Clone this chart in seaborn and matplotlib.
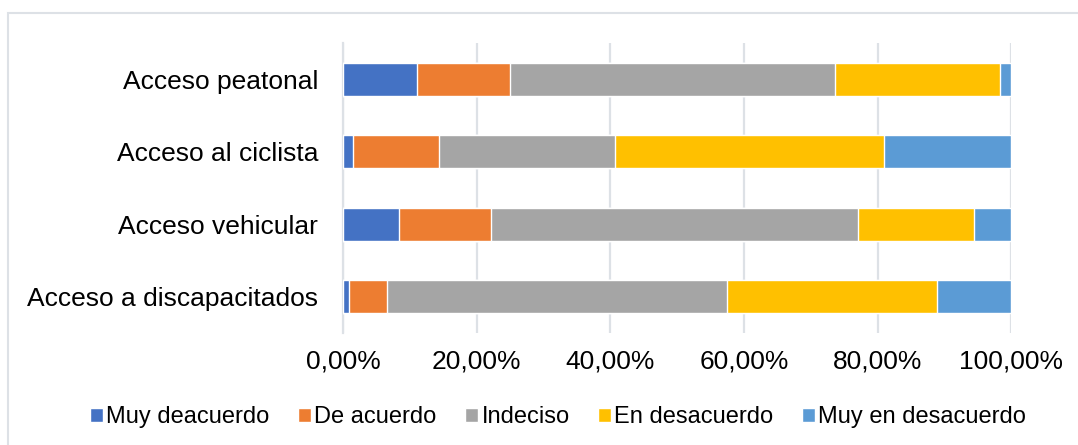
import matplotlib
matplotlib.use("Agg")
import matplotlib.pyplot as plt
from matplotlib.ticker import FuncFormatter, FixedLocator
from matplotlib.patches import Rectangle, Patch
import seaborn as sns
import pandas as pd
import numpy as np

# categories (top to bottom) and the five answer series, in percent
categorias = ["Acceso peatonal", "Acceso al ciclista", "Acceso vehicular", "Acceso a discapacitados"]
series = ["Muy deacuerdo", "De acuerdo", "Indeciso", "En desacuerdo", "Muy en desacuerdo"]
muy_deacuerdo = [11.1, 1.5, 8.3, 0.9]
de_acuerdo = [13.9, 12.9, 13.9, 5.7]
indeciso = [48.6, 26.3, 54.8, 50.9]
en_desacuerdo = [24.7, 40.3, 17.4, 31.4]
muy_en_desacuerdo = [1.7, 19.0, 5.6, 11.1]
colores = ["#4472C4", "#ED7D31", "#A5A5A5", "#FFC000", "#5B9BD5"]

sns.set_style("white")
plt.rcParams["font.family"] = ["Liberation Sans", "DejaVu Sans"]
plt.rcParams["text.color"] = "black"

df = pd.DataFrame({"categoria": categorias,
                   series[0]: muy_deacuerdo, series[1]: de_acuerdo, series[2]: indeciso,
                   series[3]: en_desacuerdo, series[4]: muy_en_desacuerdo})
acum = df[series].cumsum(axis=1)

fig = plt.figure(figsize=(10.78, 4.45), dpi=100)
ax = fig.add_axes([0.3182, 0.2517, 0.9383 - 0.3182, 0.9034 - 0.2517])

# stacked bars: draw cumulative totals from the last series back to the first
for s, c in reversed(list(zip(series, colores))):
    sns.barplot(x=acum[s], y=df["categoria"], color=c, width=0.455,
                orient="h", ax=ax, saturation=1, zorder=3)

ax.set_xlim(0, 100)
ax.set_ylim(3.5, -0.5)
ax.set_xticks([0, 20, 40, 60, 80, 100])
ax.xaxis.set_major_formatter(FuncFormatter(lambda v, p: f"{v:.2f}%".replace(".", ",")))
ax.grid(axis="x", color="#dde1e6", lw=1.6, zorder=0)
ax.set_xlabel("")
ax.set_ylabel("")
for side in ["top", "right", "bottom"]:
    ax.spines[side].set_visible(False)
ax.spines["left"].set_color("#dde1e6")
ax.spines["left"].set_linewidth(1.6)
ax.tick_params(axis="x", length=0, pad=12, labelsize=19, labelcolor="black")
ax.tick_params(axis="y", which="major", length=0, pad=18, labelsize=19, labelcolor="black")
ax.yaxis.set_minor_locator(FixedLocator([-0.5, 0.5, 1.5, 2.5, 3.5]))
ax.tick_params(axis="y", which="minor", length=6, width=1.6, color="#dde1e6")

handles = [Patch(facecolor=c, label=s) for s, c in zip(series, colores)]
fig.legend(handles=handles, loc="center", bbox_to_anchor=(558 / 1078, 1 - 417 / 445),
           ncol=5, frameon=False, fontsize=17, handlelength=0.55, handleheight=0.55,
           handletextpad=0.15, columnspacing=1.2, labelcolor="black")

# light frame around the chart area
fig.patches.append(Rectangle((8 / 1078, -0.05), 1.1, 1 - 13 / 445 + 0.05,
                             transform=fig.transFigure, fill=False,
                             edgecolor="#dde1e6", lw=1.5))

fig.savefig("out.png", dpi=100)
